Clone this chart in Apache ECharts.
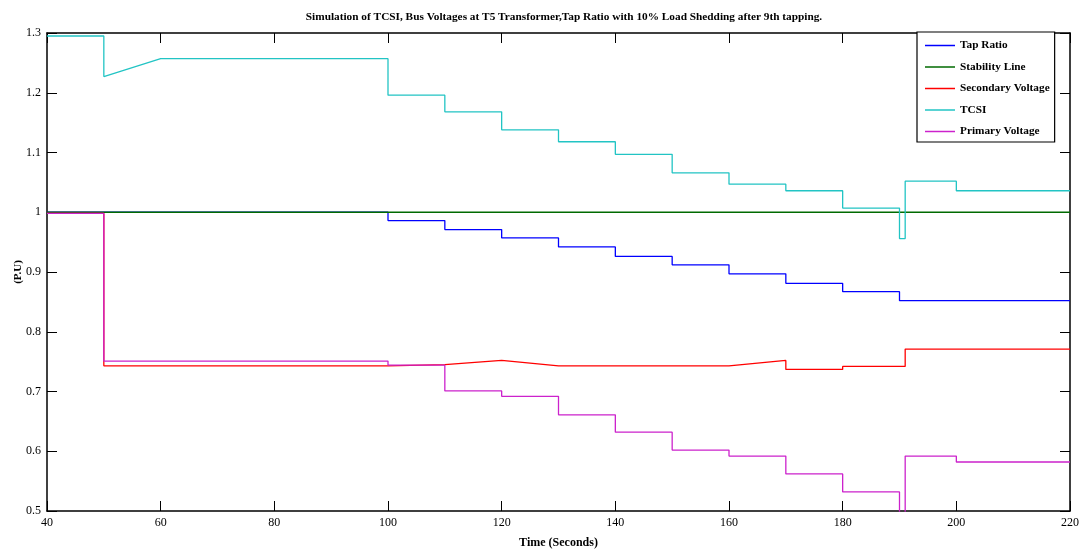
<!DOCTYPE html>
<html>
<head>
<meta charset="utf-8">
<script src="https://cdn.jsdelivr.net/npm/echarts@6/dist/echarts.min.js"></script>
<style>
  html, body { margin: 0; padding: 0; background: #fff; }
  #chart { width: 1087px; height: 550px; }
</style>
</head>
<body>
<div id="chart"></div>
<script>
  // values, [time, p.u.]
  const tapRatio = [
    [40, 1.0], [100, 1.0], [100, 0.986], [110, 0.986], [110, 0.971], [120, 0.971],
    [120, 0.957], [130, 0.957], [130, 0.942], [140, 0.942], [140, 0.926], [150, 0.926],
    [150, 0.912], [160, 0.912], [160, 0.897], [170, 0.897], [170, 0.881], [180, 0.881],
    [180, 0.867], [190, 0.867], [190, 0.852], [220, 0.852]
  ]
  const stabilityLine = [[40, 1.0], [220, 1.0]]
  const secondaryVoltage = [
    [40, 0.998], [50, 0.998], [50, 0.743], [100, 0.743], [110, 0.745], [120, 0.752],
    [130, 0.743], [160, 0.743], [170, 0.752], [170, 0.737], [180, 0.737], [180, 0.742],
    [191, 0.742], [191, 0.771], [220, 0.771]
  ]
  const tcsi = [
    [40, 1.295], [50, 1.295], [50, 1.227], [60, 1.257], [100, 1.257], [100, 1.196],
    [110, 1.196], [110, 1.168], [120, 1.168], [120, 1.138], [130, 1.138], [130, 1.118],
    [140, 1.118], [140, 1.097], [150, 1.097], [150, 1.066], [160, 1.066], [160, 1.047],
    [170, 1.047], [170, 1.036], [180, 1.036], [180, 1.007], [190, 1.007], [190, 0.956],
    [191, 0.956], [191, 1.052], [200, 1.052], [200, 1.036], [220, 1.036]
  ]
  const primaryVoltage = [
    [40, 0.998], [50, 0.998], [50, 0.751], [100, 0.751], [100, 0.744], [110, 0.744],
    [110, 0.701], [120, 0.701], [120, 0.692], [130, 0.692], [130, 0.661], [140, 0.661],
    [140, 0.632], [150, 0.632], [150, 0.602], [160, 0.602], [160, 0.592], [170, 0.592],
    [170, 0.562], [180, 0.562], [180, 0.532], [190, 0.532], [190, 0.49], [191, 0.49],
    [191, 0.592], [200, 0.592], [200, 0.582], [220, 0.582]
  ]
  const seriesNames = ['Tap Ratio', 'Stability Line', 'Secondary Voltage', 'TCSI', 'Primary Voltage']
  const seriesColors = ['#0000ff', '#006a00', '#ff0000', '#22c4c4', '#cc22cc']
  const seriesData = [tapRatio, stabilityLine, secondaryVoltage, tcsi, primaryVoltage]

  const serif = '"Liberation Serif", "DejaVu Serif", serif'
  const chart = echarts.init(document.getElementById('chart'), null, { renderer: 'canvas' })

  const boxAxis = (extra) => Object.assign({
    type: 'value',
    axisLine: { show: true, onZero: false, lineStyle: { color: '#000', width: 1.5 } },
    axisTick: { show: true, inside: true, length: 10, lineStyle: { color: '#000', width: 1 } },
    splitLine: { show: false },
    axisLabel: { show: false }
  }, extra)

  chart.setOption({
    backgroundColor: '#fff',
    animation: false,
    title: {
      text: 'Simulation of TCSI, Bus Voltages at T5 Transformer,Tap Ratio with 10% Load Shedding after 9th tapping.',
      left: 559,
      textAlign: 'center',
      top: 7,
      textStyle: { fontFamily: serif, fontSize: 11.3, fontWeight: 'bold', color: '#000' }
    },
    grid: { left: 47, right: 17, top: 33, bottom: 39, outerBoundsMode: 'none' },
    legend: {
      left: 917,
      top: 32,
      orient: 'vertical',
      data: seriesNames,
      icon: 'rect',
      itemWidth: 30,
      itemHeight: 1.5,
      itemGap: 8.5,
      padding: [7, 5, 4, 8],
      backgroundColor: '#fff',
      borderColor: '#000',
      borderWidth: 1.2,
      textStyle: { fontFamily: serif, fontSize: 11.3, fontWeight: 'bold', color: '#000', lineHeight: 13 }
    },
    xAxis: [
      boxAxis({
        min: 40, max: 220, interval: 20,
        name: 'Time (Seconds)',
        nameLocation: 'middle',
        nameGap: 26,
        nameMoveOverlap: false,
        nameTextStyle: { fontFamily: serif, fontSize: 12, fontWeight: 'bold', color: '#000' },
        axisLabel: { show: true, fontFamily: serif, fontSize: 12, color: '#000', margin: 6 }
      }),
      boxAxis({ min: 40, max: 220, interval: 20, position: 'top' })
    ],
    yAxis: [
      boxAxis({
        min: 0.5, max: 1.3, interval: 0.1,
        name: '(P.U)',
        nameLocation: 'middle',
        nameGap: 23,
        nameMoveOverlap: false,
        nameTextStyle: { fontFamily: serif, fontSize: 11, fontWeight: 'bold', color: '#000' },
        axisLabel: { show: true, fontFamily: serif, fontSize: 12, color: '#000', margin: 6 }
      }),
      boxAxis({ min: 0.5, max: 1.3, interval: 0.1, position: 'right' })
    ],
    series: seriesNames.map((name, i) => ({
      name,
      type: 'line',
      data: seriesData[i],
      showSymbol: false,
      symbol: 'none',
      clip: true,
      color: seriesColors[i],
      lineStyle: { width: 1.3, color: seriesColors[i] }
    }))
  })
</script>
</body>
</html>
